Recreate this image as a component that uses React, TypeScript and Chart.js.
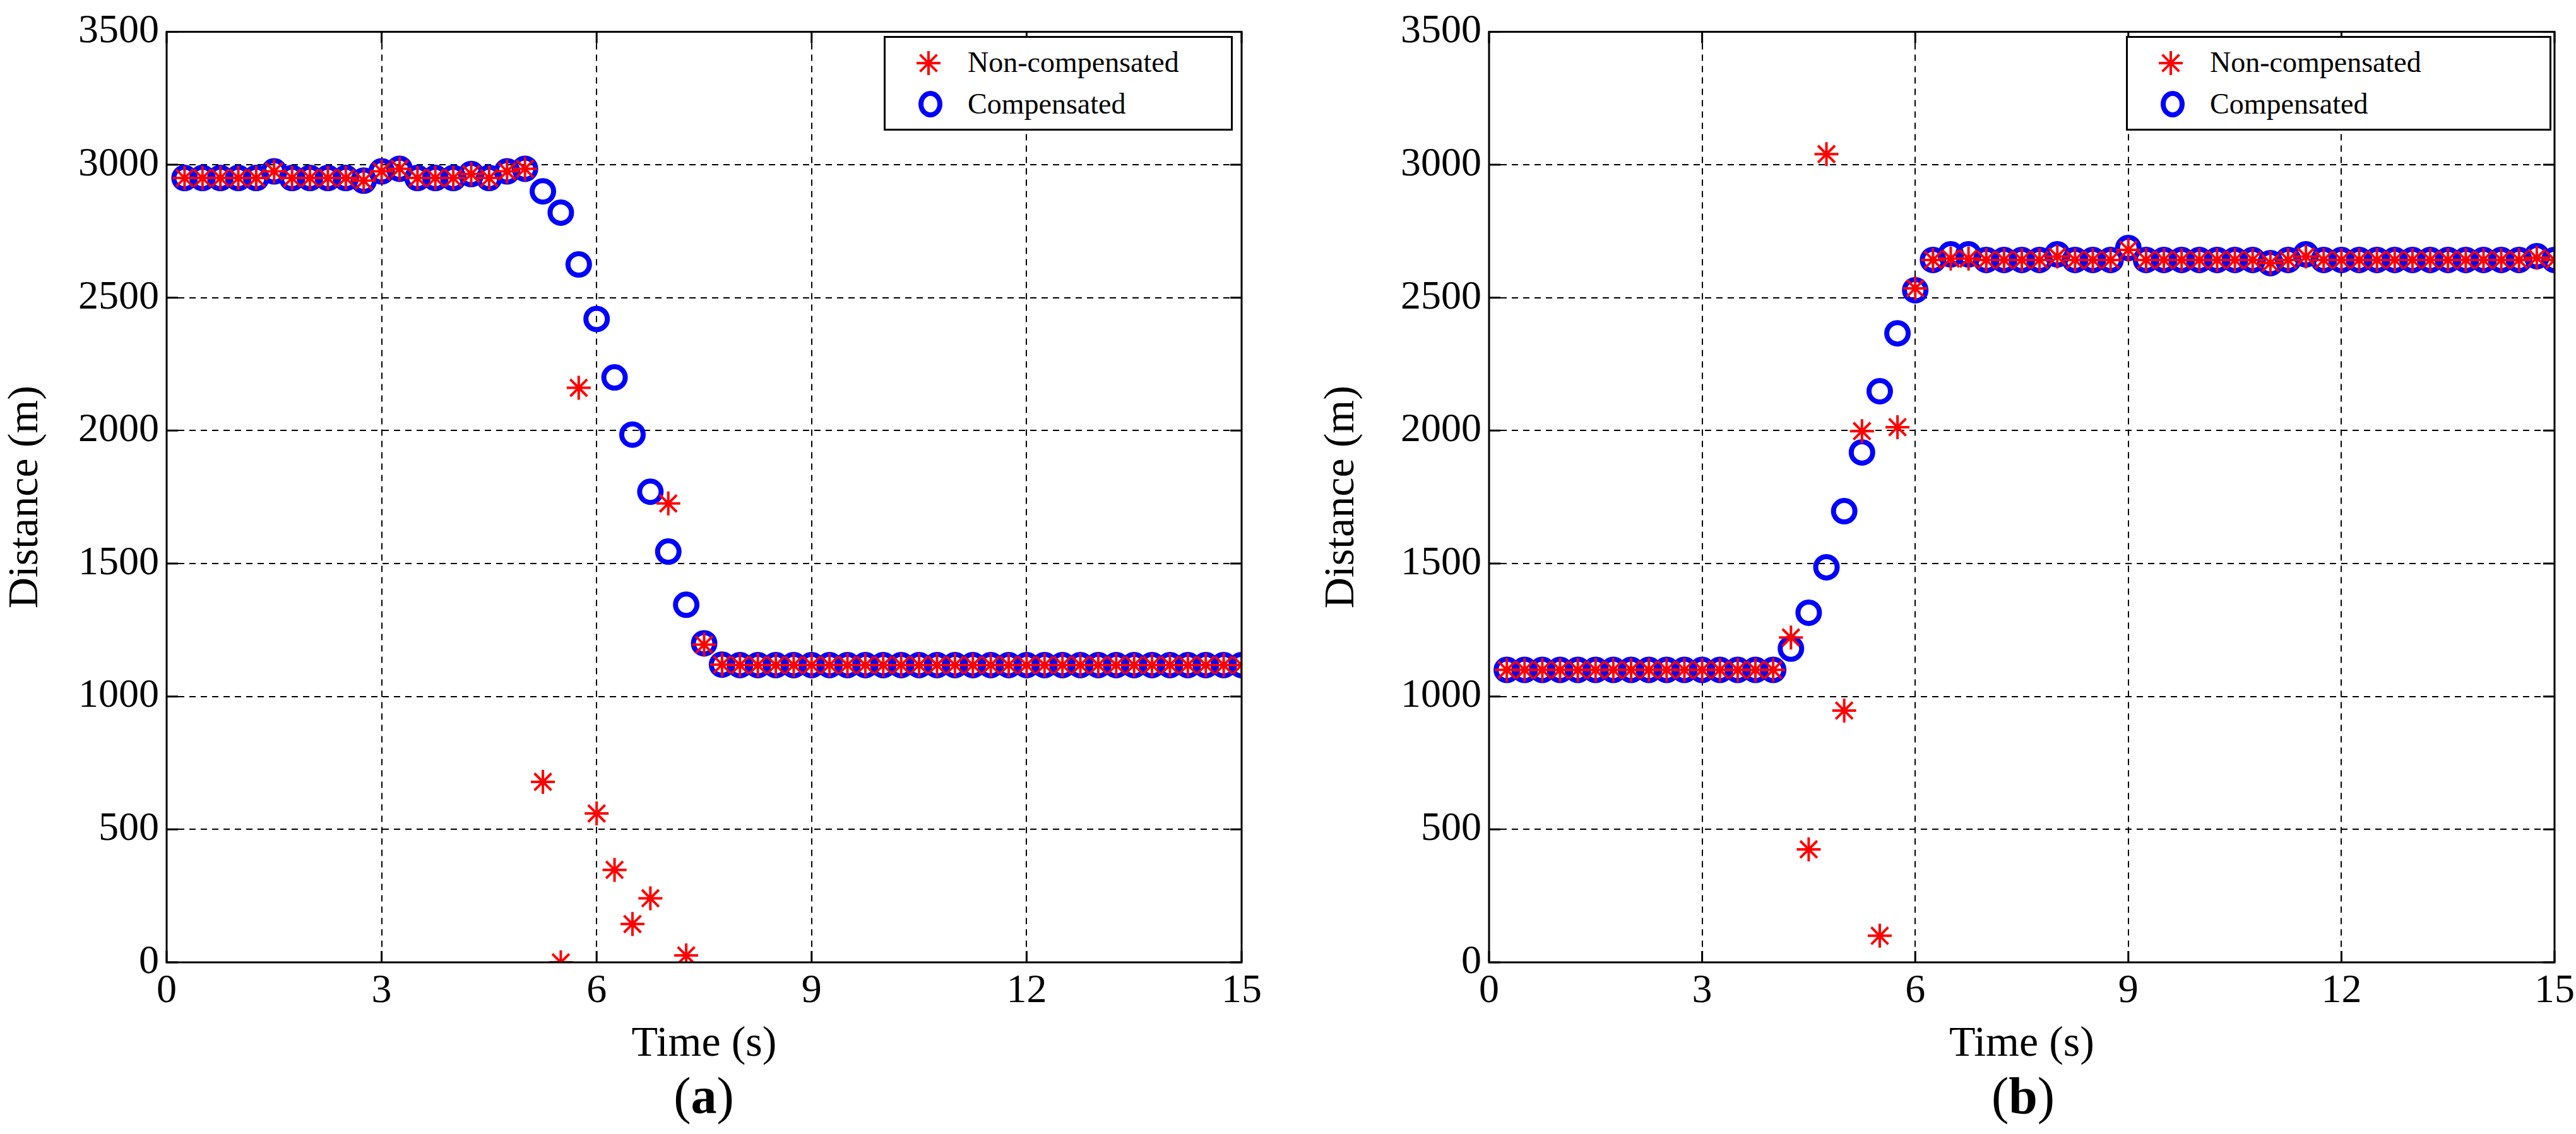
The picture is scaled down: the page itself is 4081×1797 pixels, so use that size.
import React, { useEffect, useRef } from "react";
import { Chart, registerables } from "chart.js";
Chart.register(...registerables);

const times: number[] = Array.from({ length: 60 }, (_, i) => (i + 1) * 0.25);

const compA: number[] = [
  2950, 2950, 2950, 2950, 2950, 2975, 2950, 2950, 2950, 2950, 2940, 2975,
  2985, 2950, 2950, 2950, 2965, 2950, 2975, 2985, 2900, 2820, 2625, 2420,
  2200, 1985, 1770, 1545, 1345, 1200, 1120, 1118, 1118, 1118, 1118, 1118,
  1118, 1118, 1118, 1118, 1118, 1118, 1118, 1118, 1118, 1118, 1118, 1118,
  1118, 1118, 1118, 1118, 1118, 1118, 1118, 1118, 1118, 1118, 1118, 1118,
];
const nonA: number[] = [
  2950, 2950, 2950, 2950, 2950, 2975, 2950, 2950, 2950, 2950, 2940, 2975,
  2985, 2950, 2950, 2950, 2965, 2950, 2975, 2985, 679, 0, 2161, 560,
  348, 144, 241, 1726, 26, 1195, 1120, 1118, 1118, 1118, 1118, 1118,
  1118, 1118, 1118, 1118, 1118, 1118, 1118, 1118, 1118, 1118, 1118, 1118,
  1118, 1118, 1118, 1118, 1118, 1118, 1118, 1118, 1118, 1118, 1118, 1118,
];
const compB: number[] = [
  1100, 1100, 1100, 1100, 1100, 1100, 1100, 1100, 1100, 1100, 1100, 1100,
  1100, 1100, 1100, 1100, 1180, 1315, 1486, 1697, 1918, 2148, 2366, 2528,
  2642, 2663, 2663, 2642, 2642, 2642, 2642, 2663, 2642, 2642, 2642, 2687,
  2642, 2642, 2642, 2642, 2642, 2642, 2642, 2630, 2642, 2663, 2642, 2642,
  2642, 2642, 2642, 2642, 2642, 2642, 2642, 2642, 2642, 2642, 2656, 2642,
];
const nonB: number[] = [
  1100, 1100, 1100, 1100, 1100, 1100, 1100, 1100, 1100, 1100, 1100, 1100,
  1100, 1100, 1100, 1100, 1222, 425, 3040, 947, 1998, 100, 2013, 2535,
  2642, 2647, 2647, 2642, 2642, 2642, 2642, 2655, 2642, 2642, 2642, 2680,
  2642, 2642, 2642, 2642, 2642, 2642, 2642, 2630, 2642, 2655, 2642, 2642,
  2642, 2642, 2642, 2642, 2642, 2642, 2642, 2642, 2642, 2642, 2650, 2642,
];
const xTicks: number[] = [0, 3, 6, 9, 12, 15];
const yTicks: number[] = [0, 500, 1000, 1500, 2000, 2500, 3000, 3500];

const FONT = "Liberation Serif";

const framePlugin = {
  id: "frame",
  afterDraw(chart: any) {
    const { ctx, chartArea: a, scales } = chart;
    ctx.save();
    ctx.strokeStyle = "#000";
    ctx.lineWidth = 3;
    ctx.setLineDash([]);
    ctx.strokeRect(a.left, a.top, a.right - a.left, a.bottom - a.top);
    const L = 18;
    ctx.beginPath();
    for (const v of xTicks) {
      const x = scales.x.getPixelForValue(v);
      ctx.moveTo(x, a.bottom); ctx.lineTo(x, a.bottom - L);
      ctx.moveTo(x, a.top); ctx.lineTo(x, a.top + L);
    }
    for (const v of yTicks) {
      const y = scales.y.getPixelForValue(v);
      ctx.moveTo(a.left, y); ctx.lineTo(a.left + L, y);
      ctx.moveTo(a.right, y); ctx.lineTo(a.right - L, y);
    }
    ctx.stroke();
    ctx.restore();
  },
};

function Panel(props: { non: number[]; comp: number[]; yw: number; rp: number }) {
  const ref = useRef<HTMLCanvasElement>(null);
  useEffect(() => {
    const chart = new Chart(ref.current!, {
      type: "scatter",
      data: {
        datasets: [
          {
            label: "Non-compensated",
            data: times.map((t, i) => ({ x: t, y: props.non[i] })),
            pointStyle: "star",
            pointRadius: 19,
            borderColor: "#ff0000",
            backgroundColor: "#ff0000",
            pointBorderWidth: 4,
          },
          {
            label: "Compensated",
            data: times.map((t, i) => ({ x: t, y: props.comp[i] })),
            pointStyle: "circle",
            pointRadius: 17,
            borderColor: "#0000ff",
            backgroundColor: "rgba(0,0,0,0)",
            pointBorderWidth: 8,
          },
        ],
      },
      options: {
        animation: false,
        responsive: false,
        layout: { padding: { top: 31, right: props.rp, left: 0, bottom: 0 } },
        plugins: { legend: { display: false }, tooltip: { enabled: false } },
        scales: {
          x: {
            type: "linear",
            min: 0,
            max: 15,
            afterBuildTicks: (s: any) => { s.ticks = xTicks.map((v) => ({ value: v })); },
            afterFit: (s: any) => { s.height = 175; },
            grid: { color: "#000", lineWidth: 2, tickLength: 0, drawTicks: false },
            border: { display: false, dash: [10, 8] } as any,
            ticks: { color: "#000", font: { family: FONT, size: 64 }, padding: 8, callback: (v: any) => String(v) },
            title: { display: true, text: "Time (s)", color: "#000", font: { family: FONT, size: 68 }, padding: { top: -8 } },
          },
          y: {
            type: "linear",
            min: 0,
            max: 3500,
            afterBuildTicks: (s: any) => { s.ticks = yTicks.map((v) => ({ value: v })); },
            afterFit: (s: any) => { s.width = props.yw; },
            grid: { color: "#000", lineWidth: 2, drawTicks: false },
            border: { display: false, dash: [10, 8] } as any,
            ticks: { color: "#000", font: { family: FONT, size: 64 }, padding: 12, callback: (v: any) => String(v) },
            title: { display: true, text: "Distance (m)", color: "#000", font: { family: FONT, size: 68 }, padding: 0 },
          },
        },
      },
      plugins: [framePlugin],
    });
    return () => chart.destroy();
  }, []);
  return <canvas ref={ref} width={props.yw + 1703 + props.rp} height={1700} style={{ display: "block" }} />;
}

function Star() {
  const lines = [0, 45, 90, 135];
  return (
    <svg width={44} height={44} viewBox="-22 -22 44 44" style={{ position: "absolute", left: 46, top: 18 }}>
      {lines.map((a) => (
        <line key={a} x1={-19 * Math.cos((a * Math.PI) / 180)} y1={-19 * Math.sin((a * Math.PI) / 180)}
          x2={19 * Math.cos((a * Math.PI) / 180)} y2={19 * Math.sin((a * Math.PI) / 180)} stroke="#ff0000" strokeWidth={4} />
      ))}
    </svg>
  );
}

function Legend(props: { left: number; width: number }) {
  const txt: React.CSSProperties = { position: "absolute", left: 130, fontFamily: FONT, fontSize: 46, color: "#000", lineHeight: "50px", whiteSpace: "nowrap" };
  return (
    <div style={{ position: "absolute", left: props.left, top: 57, width: props.width, height: 150, border: "3px solid #000", background: "#fff", boxSizing: "border-box" }}>
      <Star />
      <div style={{ ...txt, top: 14 }}>Non-compensated</div>
      <div style={{ position: "absolute", left: 52, top: 84, width: 22, height: 26, border: "8px solid #0000ff", borderRadius: "50%" }} />
      <div style={{ ...txt, top: 80 }}>Compensated</div>
    </div>
  );
}

export default function App() {
  const lab: React.CSSProperties = { position: "absolute", top: 1690, fontFamily: FONT, fontSize: 82, color: "#000", width: 200, textAlign: "center", marginLeft: -100 };
  return (
    <div style={{ position: "absolute", left: 0, top: 0, width: 4081, height: 1797, background: "#fff", overflow: "hidden" }}>
      <div style={{ position: "absolute", left: 0, top: 0 }}>
        <Panel non={nonA} comp={compA} yw={264} rp={40} />
      </div>
      <div style={{ position: "absolute", left: 2085, top: 0 }}>
        <Panel non={nonB} comp={compB} yw={274} rp={25} />
      </div>
      <Legend left={1400} width={553} />
      <Legend left={3368} width={674} />
      <div style={{ ...lab, left: 1115 }}>(<b>a</b>)</div>
      <div style={{ ...lab, left: 3205 }}>(<b>b</b>)</div>
    </div>
  );
}
